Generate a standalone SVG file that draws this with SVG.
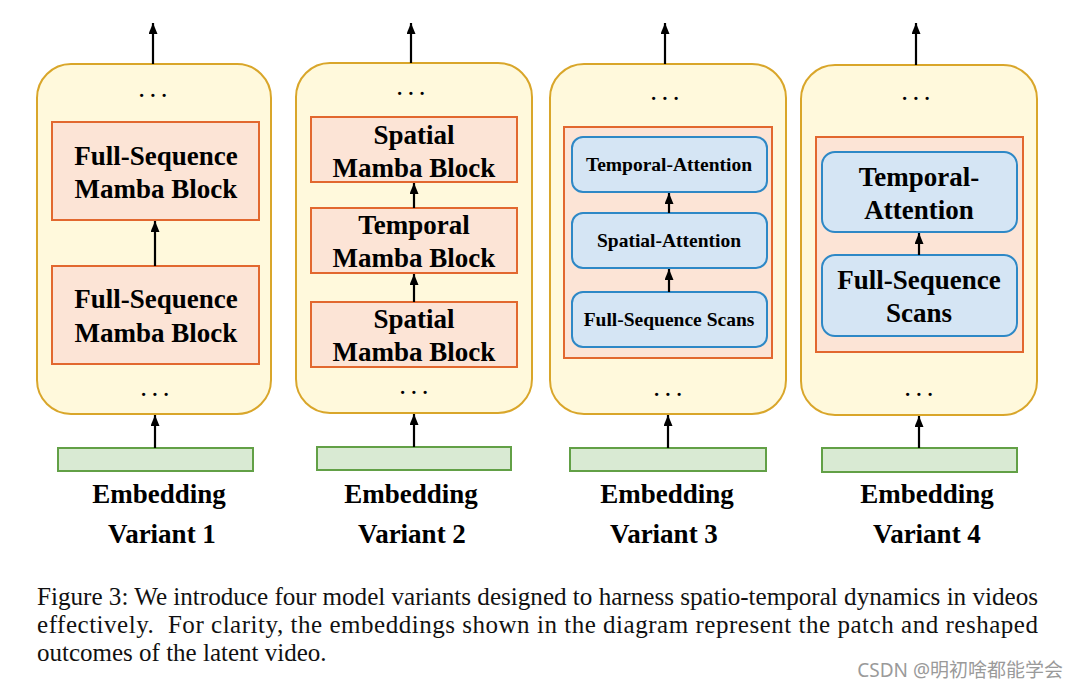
<svg xmlns="http://www.w3.org/2000/svg" width="1080" height="689" viewBox="0 0 1080 689">
<style>
.outer{fill:#FFF9DC;stroke:#D9A62A;stroke-width:2}
.blk{fill:#FCE4D6;stroke:#E2682F;stroke-width:2}
.blue{fill:#D5E5F4;stroke:#2E88C6;stroke-width:2}
.emb{fill:#D9EAD3;stroke:#62A046;stroke-width:2}
.t{font-family:"Liberation Serif","Times New Roman",serif;font-weight:bold;fill:#000;text-anchor:middle}
.b27{font-size:27px}
.b19{font-size:19.5px}
.dots{font-family:"Liberation Serif",serif;font-size:27px;letter-spacing:4.5px;fill:#000;text-anchor:middle}
.cap{font-family:"Liberation Serif","Times New Roman",serif;font-size:25px;fill:#111;white-space:pre}
.arr{stroke:#000;stroke-width:2.2;fill:none;marker-end:url(#ah)}
</style>
<defs>
<marker id="ah" markerUnits="userSpaceOnUse" markerWidth="11" markerHeight="9" refX="10" refY="5" viewBox="0 0 10 10" orient="auto" preserveAspectRatio="none">
<path d="M0,0 L10,5 L0,10 Z" fill="#000"/>
</marker>
</defs>
<rect width="1080" height="689" fill="#fff"/>

<g id="variant1">
<rect class="outer" x="37" y="64" width="234" height="350" rx="34"/>
<text class="dots" x="155" y="97">...</text>
<text class="dots" x="157" y="396">...</text>
<g id="v1-block-top">
<rect class="blk" x="52" y="122" width="207" height="98"/>
<text class="t b27" x="156" y="165">Full-Sequence</text>
<text class="t b27" x="156" y="198">Mamba Block</text>
</g>
<g id="v1-block-bottom">
<rect class="blk" x="52" y="266" width="207" height="98"/>
<text class="t b27" x="156" y="308">Full-Sequence</text>
<text class="t b27" x="156" y="342">Mamba Block</text>
</g>
</g>

<g id="variant2">
<rect class="outer" x="296" y="63" width="236" height="350" rx="34"/>
<text class="dots" x="413" y="95">...</text>
<text class="dots" x="416" y="394">...</text>
<g id="v2-spatial-top">
<rect class="blk" x="311" y="117" width="206" height="65"/>
<text class="t b27" x="414" y="144">Spatial</text>
<text class="t b27" x="414" y="177">Mamba Block</text>
</g>
<g id="v2-temporal">
<rect class="blk" x="311" y="208" width="206" height="65"/>
<text class="t b27" x="414" y="234">Temporal</text>
<text class="t b27" x="414" y="267">Mamba Block</text>
</g>
<g id="v2-spatial-bottom">
<rect class="blk" x="311" y="302" width="206" height="65"/>
<text class="t b27" x="414" y="328">Spatial</text>
<text class="t b27" x="414" y="361">Mamba Block</text>
</g>
</g>

<g id="variant3">
<rect class="outer" x="550" y="64" width="236" height="350" rx="34"/>
<text class="dots" x="667" y="100">...</text>
<text class="dots" x="670" y="396">...</text>
<rect class="blk" x="564" y="127" width="208" height="231"/>
<g id="v3-temporal-attn">
<rect class="blue" x="572" y="137" width="195" height="55" rx="11"/>
<text class="t b19" x="669" y="171">Temporal-Attention</text>
</g>
<g id="v3-spatial-attn">
<rect class="blue" x="572" y="213" width="195" height="55" rx="11"/>
<text class="t b19" x="669" y="247">Spatial-Attention</text>
</g>
<g id="v3-scans">
<rect class="blue" x="572" y="292" width="195" height="55" rx="11"/>
<text class="t b19" x="669" y="326">Full-Sequence Scans</text>
</g>
</g>

<g id="variant4">
<rect class="outer" x="801" y="65" width="236" height="350" rx="34"/>
<text class="dots" x="918" y="100">...</text>
<text class="dots" x="921" y="396">...</text>
<rect class="blk" x="816" y="137" width="207" height="215"/>
<g id="v4-temporal-attn">
<rect class="blue" x="822" y="152" width="195" height="80" rx="13"/>
<text class="t b27" x="919" y="186">Temporal-</text>
<text class="t b27" x="919" y="219">Attention</text>
</g>
<g id="v4-scans">
<rect class="blue" x="822" y="255" width="195" height="81" rx="13"/>
<text class="t b27" x="919" y="289">Full-Sequence</text>
<text class="t b27" x="919" y="322">Scans</text>
</g>
</g>

<g id="embeddings">
<rect class="emb" x="58" y="448" width="195" height="23"/>
<rect class="emb" x="317" y="447" width="194" height="23"/>
<rect class="emb" x="570" y="448" width="196" height="23"/>
<rect class="emb" x="822" y="448" width="195" height="24"/>
</g>

<g id="connectors">
<path class="arr" d="M153,64 V23"/>
<path class="arr" d="M155,266 V221"/>
<path class="arr" d="M155,448 V415"/>
<path class="arr" d="M411,63 V23"/>
<path class="arr" d="M414,208 V183"/>
<path class="arr" d="M414,302 V274"/>
<path class="arr" d="M414,447 V414"/>
<path class="arr" d="M665,64 V23"/>
<path class="arr" d="M669,213 V193"/>
<path class="arr" d="M669,292 V269"/>
<path class="arr" d="M668,448 V415"/>
<path class="arr" d="M916,65 V23"/>
<path class="arr" d="M919,255 V233"/>
<path class="arr" d="M919,448 V416"/>
</g>

<g id="labels">
<text class="t b27" x="159" y="503">Embedding</text>
<text class="t b27" x="162" y="543">Variant 1</text>
<text class="t b27" x="411" y="503">Embedding</text>
<text class="t b27" x="412" y="543">Variant 2</text>
<text class="t b27" x="667" y="503">Embedding</text>
<text class="t b27" x="664" y="543">Variant 3</text>
<text class="t b27" x="927" y="503">Embedding</text>
<text class="t b27" x="927" y="543">Variant 4</text>
</g>

<g id="caption">
<text class="cap" x="37" y="605" textLength="1001" lengthAdjust="spacingAndGlyphs">Figure 3: We introduce four model variants designed to harness spatio-temporal dynamics in videos</text>
<text class="cap" x="37" y="633" textLength="1001" lengthAdjust="spacing">effectively.  For clarity, the embeddings shown in the diagram represent the patch and reshaped</text>
<text class="cap" x="37" y="661">outcomes of the latent video.</text>
</g>
<text x="1063" y="677" font-family="'Noto Sans','Noto Sans CJK SC',sans-serif" font-size="19" fill="#9a9a9a" text-anchor="end">CSDN @明初啥都能学会</text>
</svg>
